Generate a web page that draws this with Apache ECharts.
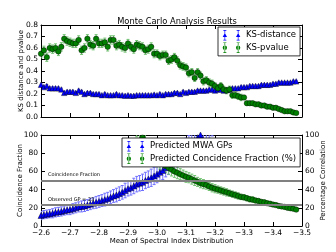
<!DOCTYPE html>
<html>
<head>
<meta charset="utf-8">
<script src="https://cdn.jsdelivr.net/npm/echarts@6/dist/echarts.min.js"></script>
<style>html,body{margin:0;padding:0;background:#fff}#c{width:336px;height:252px}</style>
</head>
<body>
<div id="c"></div>
<script>
// Mean of spectral index (x values)
const xs = [
-2.60,-2.61,-2.62,-2.63,-2.64,-2.65,-2.66,-2.67,-2.68,-2.69,
-2.70,-2.71,-2.72,-2.73,-2.74,-2.75,-2.76,-2.77,-2.78,-2.79,
-2.80,-2.81,-2.82,-2.83,-2.84,-2.85,-2.86,-2.87,-2.88,-2.89,
-2.90,-2.91,-2.92,-2.93,-2.94,-2.95,-2.96,-2.97,-2.98,-2.99,
-3.00,-3.01,-3.02,-3.03,-3.04,-3.05,-3.06,-3.07,-3.08,-3.09,
-3.10,-3.11,-3.12,-3.13,-3.14,-3.15,-3.16,-3.17,-3.18,-3.19,
-3.20,-3.21,-3.22,-3.23,-3.24,-3.25,-3.26,-3.27,-3.28,-3.29,
-3.30,-3.31,-3.32,-3.33,-3.34,-3.35,-3.36,-3.37,-3.38,-3.39,
-3.40,-3.41,-3.42,-3.43,-3.44,-3.45,-3.46,-3.47,-3.48];

const ksDistance = [
0.28,0.26,0.27,0.25,0.25,0.25,0.25,0.24,0.21,0.22,
0.22,0.22,0.21,0.23,0.22,0.20,0.21,0.21,0.20,0.20,
0.20,0.19,0.20,0.19,0.19,0.19,0.20,0.19,0.19,0.185,
0.19,0.185,0.185,0.19,0.19,0.19,0.19,0.19,0.19,0.195,
0.19,0.20,0.19,0.20,0.20,0.20,0.21,0.21,0.20,0.22,
0.21,0.22,0.22,0.22,0.23,0.23,0.23,0.23,0.24,0.24,
0.23,0.24,0.24,0.23,0.235,0.24,0.25,0.25,0.25,0.26,
0.26,0.26,0.27,0.27,0.27,0.27,0.28,0.28,0.28,0.28,
0.29,0.29,0.30,0.30,0.30,0.30,0.30,0.31,0.31];
const ksDistErr = [
0.012,0.012,0.012,0.012,0.012,0.012,0.011,0.011,0.011,0.011,
0.011,0.011,0.011,0.011,0.011,0.010,0.010,0.010,0.010,0.010,
0.010,0.010,0.010,0.010,0.010,0.010,0.010,0.010,0.010,0.010,
0.010,0.010,0.010,0.010,0.010,0.010,0.010,0.010,0.010,0.010,
0.010,0.010,0.010,0.010,0.010,0.010,0.010,0.010,0.010,0.010,
0.010,0.010,0.010,0.010,0.010,0.010,0.010,0.010,0.010,0.010,
0.010,0.010,0.010,0.010,0.010,0.010,0.010,0.010,0.010,0.010,
0.009,0.009,0.009,0.009,0.009,0.009,0.009,0.009,0.009,0.009,
0.009,0.009,0.009,0.009,0.009,0.009,0.009,0.009,0.009];

const ksPvalue = [
0.55,0.58,0.52,0.60,0.59,0.60,0.57,0.61,0.68,0.66,
0.65,0.64,0.64,0.67,0.58,0.60,0.68,0.63,0.62,0.68,
0.64,0.64,0.65,0.61,0.67,0.67,0.62,0.63,0.61,0.60,
0.64,0.61,0.59,0.63,0.62,0.61,0.58,0.59,0.61,0.55,
0.55,0.53,0.54,0.54,0.49,0.50,0.52,0.49,0.45,0.44,
0.43,0.38,0.39,0.34,0.39,0.36,0.31,0.32,0.30,0.29,
0.27,0.25,0.27,0.24,0.23,0.24,0.19,0.19,0.18,0.17,
0.17,0.12,0.12,0.12,0.11,0.11,0.10,0.10,0.09,0.09,
0.08,0.08,0.07,0.06,0.05,0.05,0.05,0.04,0.035];
const ksPvalErr = [
0.036,0.036,0.036,0.036,0.036,0.036,0.036,0.036,0.036,0.036,
0.036,0.036,0.036,0.036,0.036,0.036,0.036,0.036,0.036,0.036,
0.036,0.036,0.036,0.036,0.036,0.036,0.036,0.036,0.036,0.036,
0.035,0.035,0.035,0.035,0.035,0.035,0.035,0.035,0.035,0.035,
0.033,0.033,0.033,0.033,0.033,0.033,0.033,0.033,0.033,0.033,
0.031,0.031,0.031,0.031,0.031,0.031,0.031,0.031,0.031,0.031,
0.028,0.028,0.028,0.028,0.028,0.028,0.028,0.028,0.028,0.028,
0.016,0.016,0.016,0.016,0.016,0.016,0.016,0.016,0.016,0.016,
0.013,0.013,0.013,0.013,0.013,0.013,0.013,0.013,0.013];

// Predicted MWA GPs (left axis), from x = -2.60 onward
const mwaGps = [
11.5,12.5,13,13.5,14,15,15.5,16,17,17.5,
18,19,20,21,21.5,22,23,24,25,26,
27,28,29,30,31.5,33,34,35.5,37,39,
41,42,44,46,47,48,50,51.5,53,55,
57,59,61,64,67,70,73,76,79,82,
85,88,91,94,97,100,103,106,109,112,
115];
const mwaErr = [
4.5,4.5,4.5,4.5,5,5,5,5,5,5,
5.5,5.5,5.5,5.5,6,6,6,6,6,6.5,
6.5,6.5,7,7,7,7,7.5,7.5,7.5,8,
8,8,8.5,8.5,8.5,9,9,9,9.5,9.5,
9.5,10,10,10,10.5,10.5,10.5,11,11,11,
11.5,11.5,11.5,12,12,12,12.5,12.5,12.5,13,
13];

// Predicted coincidence fraction (%) (right axis), ending at x = -3.48
const coincidence = [
112,107,102,97,92,87,82,77,
73,70,68,66,64,62,60,58.5,57,55.5,
54,53,51.5,50,48.5,47,46,45,43.5,42,
41,40,39,38,37,36,35,34,33,32,
31.5,30.5,29.5,29,28,27.5,26.5,26,25,24.5,
23.5,23,22,21.5,21,20,19.5,19,18];
const coincErr = [
9,9,9,9,8.5,8.5,8,8,
8,7.5,7.5,7,7,7,6.5,6.5,6,6,
6,5.5,5.5,5.5,5,5,5,4.5,4.5,4.5,
4.5,4,4,4,4,3.5,3.5,3.5,3.5,3,
3,3,3,3,2.5,2.5,2.5,2.5,2.5,2.5,
2,2,2,2,2,2,2,2,2];

const refLevels = [50, 23];
const refLabels = ['Coincidence Fraction', 'Observed GP = 23'];

const xTickLabels = ['\u22122.6','\u22122.7','\u22122.8','\u22122.9','\u22123.0','\u22123.1','\u22123.2','\u22123.3','\u22123.4','\u22123.5'];

const FONT = 'DejaVu Sans';
const BLUE = '#0000ff', BLUE_ERR = '#7070ff';
const GREEN = '#008000', GREEN_ERR = '#70c070';

function errData(x, y, e) {
  const out = [];
  for (let i = 0; i < y.length; i++) out.push([x[i], y[i], e[i]]);
  return out;
}
const mwaX = xs.slice(0, mwaGps.length);
const coincX = xs.slice(xs.length - coincidence.length);

function errSeries(name, xi, yi, data, color) {
  return {
    type: 'custom', name: name, xAxisIndex: xi, yAxisIndex: yi, clip: true, z: 1,
    silent: true, data: data, encode: {x: 0, y: 1},
    renderItem: function (params, api) {
      const x = api.value(0), y = api.value(1), e = api.value(2);
      const a = api.coord([x, y + e]), b = api.coord([x, y - e]);
      const c = 1.5;
      const st = {stroke: color, lineWidth: 1};
      return {type: 'group', children: [
        {type: 'line', shape: {x1: a[0], y1: a[1], x2: b[0], y2: b[1]}, style: st},
        {type: 'line', shape: {x1: a[0] - c, y1: a[1], x2: a[0] + c, y2: a[1]}, style: st},
        {type: 'line', shape: {x1: b[0] - c, y1: b[1], x2: b[0] + c, y2: b[1]}, style: st}
      ]};
    }
  };
}
function ptSeries(name, xi, yi, x, y, symbol, size, color) {
  return {
    type: 'scatter', name: name, xAxisIndex: xi, yAxisIndex: yi, z: 3,
    symbol: symbol, symbolSize: size, clip: true,
    itemStyle: {color: color, borderColor: '#000', borderWidth: 0.4, opacity: 1},
    data: x.map((v, i) => [v, y[i]])
  };
}

function xAxisCfg(grid, pos, labels) {
  const ax = {
    type: 'value', gridIndex: grid, position: pos, inverse: true,
    min: -3.5, max: -2.6, interval: 0.1,
    axisLine: {show: true, onZero: false, lineStyle: {color: '#000', width: 1}},
    axisTick: {show: true, inside: true, length: 4, lineStyle: {color: '#000'}},
    splitLine: {show: false},
    axisLabel: {show: labels, fontFamily: FONT, fontSize: 7.5, color: '#000', margin: 3,
      formatter: function (v) { const k = Math.round((-v - 2.6) * 10); return xTickLabels[k]; }}
  };
  if (labels) {
    ax.name = 'Mean of Spectral Index Distribution';
    ax.nameLocation = 'middle'; ax.nameGap = 12; ax.nameMoveOverlap = false;
    ax.nameTextStyle = {fontFamily: FONT, fontSize: 7, color: '#000'};
  }
  return ax;
}
function yAxisCfg(grid, pos, labels, min, max, step, dec, name, gap) {
  const ax = {
    type: 'value', gridIndex: grid, position: pos, min: min, max: max, interval: step,
    axisLine: {show: true, onZero: false, lineStyle: {color: '#000', width: 1}},
    axisTick: {show: true, inside: true, length: 4, lineStyle: {color: '#000'}},
    splitLine: {show: false},
    axisLabel: {show: labels, fontFamily: FONT, fontSize: 7.5, color: '#000', margin: 3,
      formatter: function (v) { return v.toFixed(dec); }}
  };
  if (name) {
    ax.name = name; ax.nameLocation = 'middle'; ax.nameGap = gap; ax.nameMoveOverlap = false;
    ax.nameTextStyle = {fontFamily: FONT, fontSize: 7, color: '#000'};
  }
  return ax;
}

function ebIcon(kind) {
  let p = '';
  [3, 17].forEach(function (cx) {
    p += 'M' + (cx - 0.35) + ' 0H' + (cx + 0.35) + 'V11H' + (cx - 0.35) + 'Z';
    p += 'M' + (cx - 1.6) + ' 0H' + (cx + 1.6) + 'V0.7H' + (cx - 1.6) + 'Z';
    p += 'M' + (cx - 1.6) + ' 10.3H' + (cx + 1.6) + 'V11H' + (cx - 1.6) + 'Z';
    if (kind === 'tri') {
      p += 'M' + (cx - 2.3) + ' 7.4L' + cx + ' 3.2L' + (cx + 2.3) + ' 7.4Z';
    } else {
      p += 'M' + (cx - 2.3) + ' 5.5A2.3 2.3 0 1 0 ' + (cx + 2.3) + ' 5.5A2.3 2.3 0 1 0 ' + (cx - 2.3) + ' 5.5Z';
    }
  });
  p += 'M0 5.5H0.01V5.51H0Z M19.99 5.5H20V5.51H19.99Z';
  return 'path://' + p;
}

const legendCommon = {
  orient: 'vertical', backgroundColor: '#fff', borderColor: '#000', borderWidth: 0.8,
  borderRadius: 0, padding: [3, 4, 3, 4], itemGap: 2, itemWidth: 19, itemHeight: 11,
  textStyle: {fontFamily: FONT, fontSize: 8.5, color: '#000', padding: [0, 0, 0, 0]},
  itemStyle: {borderWidth: 0}, selectedMode: false
};

const mwa = ptSeries('Predicted MWA GPs', 2, 2, mwaX, mwaGps, 'triangle', 6, BLUE);
mwa.markLine = {
  silent: true, symbol: 'none', animation: false,
  lineStyle: {color: '#808080', width: 2, type: 'solid'},
  label: {show: true, position: 'insideStartTop', fontFamily: FONT, fontSize: 5, color: '#000', distance: [7, 3]},
  data: refLevels.map(function (lv, i) {
    return [{coord: [-2.6, lv], label: {formatter: refLabels[i]}}, {coord: [-3.5, lv]}];
  })
};

const option = {
  animation: false,
  backgroundColor: '#fff',
  title: {text: 'Monte Carlo Analysis Results', left: 172, textAlign: 'center', top: 13,
    textStyle: {fontFamily: FONT, fontSize: 8.3, fontWeight: 'normal', color: '#000'}},
  grid: [
    {left: 41, top: 25, width: 261, height: 92},
    {left: 41, top: 135, width: 261, height: 91}
  ],
  xAxis: [
    xAxisCfg(0, 'bottom', false), xAxisCfg(0, 'top', false),
    xAxisCfg(1, 'bottom', true), xAxisCfg(1, 'top', false)
  ],
  yAxis: [
    yAxisCfg(0, 'left', true, 0, 0.8, 0.1, 1, 'KS distance and pvalue', 16),
    yAxisCfg(0, 'right', false, 0, 0.8, 0.1, 1, null, 0),
    yAxisCfg(1, 'left', true, 0, 100, 20, 0, 'Coincidence Fraction', 17),
    yAxisCfg(1, 'right', true, 0, 100, 20, 0, 'Percentage Correlation', 18)
  ],
  legend: [
    Object.assign({}, legendCommon, {left: 218, top: 27,
      data: [{name: 'KS-distance', icon: ebIcon('tri')}, {name: 'KS-pvalue', icon: ebIcon('circ')}]}),
    Object.assign({}, legendCommon, {left: 122, top: 138,
      data: [{name: 'Predicted MWA GPs', icon: ebIcon('tri')}, {name: 'Predicted Concidence Fraction (%)', icon: ebIcon('circ')}]})
  ],
  series: [
    errSeries('e1', 0, 0, errData(xs, ksDistance, ksDistErr), BLUE_ERR),
    ptSeries('KS-distance', 0, 0, xs, ksDistance, 'triangle', 5.5, BLUE),
    errSeries('e2', 0, 0, errData(xs, ksPvalue, ksPvalErr), GREEN_ERR),
    ptSeries('KS-pvalue', 0, 0, xs, ksPvalue, 'circle', 5.5, GREEN),
    errSeries('e3', 2, 2, errData(mwaX, mwaGps, mwaErr), BLUE_ERR),
    mwa,
    errSeries('e4', 2, 3, errData(coincX, coincidence, coincErr), GREEN_ERR),
    ptSeries('Predicted Concidence Fraction (%)', 2, 3, coincX, coincidence, 'circle', 5.5, GREEN)
  ]
};

const chart = echarts.init(document.getElementById('c'), null, {renderer: 'canvas'});
chart.setOption(option);
</script>
</body>
</html>
